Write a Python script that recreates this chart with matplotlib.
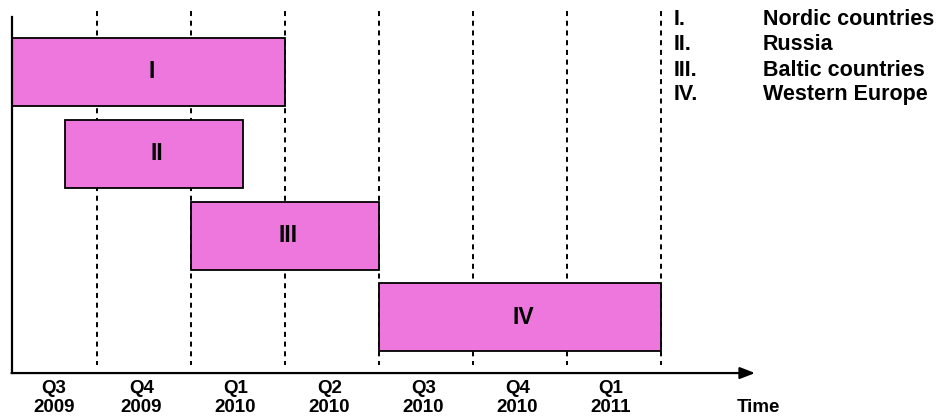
import matplotlib.pyplot as plt
from matplotlib.patches import Rectangle

plt.rcParams['font.family'] = ['Liberation Sans', 'DejaVu Sans']
plt.rcParams['font.weight'] = 'bold'

# market entry timeline, x in quarters from Q3 2009
regions = ['I', 'II', 'III', 'IV']
region_names = ['Nordic countries', 'Russia', 'Baltic countries', 'Western Europe']
starts = [0.1, 0.66, 2.0, 4.0]
ends = [3.0, 2.55, 4.0, 7.0]
quarters = ['Q3\n2009', 'Q4\n2009', 'Q1\n2010', 'Q2\n2010', 'Q3\n2010', 'Q4\n2010', 'Q1\n2011']
quarter_pos = [0.54, 1.47, 2.47, 3.47, 4.47, 5.47, 6.46]

fig = plt.figure(figsize=(9.42, 4.16), dpi=100)
ax = fig.add_axes([0, 0, 1, 1])
ax.set_xlim(-0.032, 9.989)
ax.set_ylim(4.205, -0.880)
ax.axis('off')

# quarter boundaries
for q in range(1, 8):
    ax.plot([q, q], [-0.746, 3.58], color='black', lw=1.4,
            dashes=(2.6, 2.4), zorder=1)

bar_h = 0.83
for i in range(len(regions)):
    ax.add_patch(Rectangle((starts[i], i - bar_h / 2), ends[i] - starts[i], bar_h,
                           facecolor='#EE77DD', edgecolor='black', lw=1.3, zorder=2))
    ax.text((starts[i] + ends[i]) / 2 + 0.03, i, regions[i], fontsize=16.5,
            ha='center', va='center', zorder=3)

# axes with arrow
ax.plot([0.1, 0.1], [-0.672, 3.68], color='black', lw=1.6, zorder=3)
ax.annotate('', xy=(8.0, 3.68), xytext=(0.09, 3.68),
            arrowprops=dict(arrowstyle='-|>,head_length=0.9,head_width=0.35',
                            color='black', lw=1.6, shrinkA=0, shrinkB=0))

for p, q in zip(quarter_pos, quarters):
    ax.text(p, 3.98, q, fontsize=13.5, ha='center', va='center', linespacing=1.15)
ax.text(8.04, 4.10, 'Time', fontsize=13.5, ha='center', va='center')

legend_y = [-0.642, -0.330, -0.024, 0.275]
for y, r, n in zip(legend_y, regions, region_names):
    ax.text(7.13, y, r + '.', fontsize=15.5, ha='left', va='center')
    ax.text(8.085, y, n, fontsize=15.5, ha='left', va='center')

fig.savefig('out.png', dpi=100)
